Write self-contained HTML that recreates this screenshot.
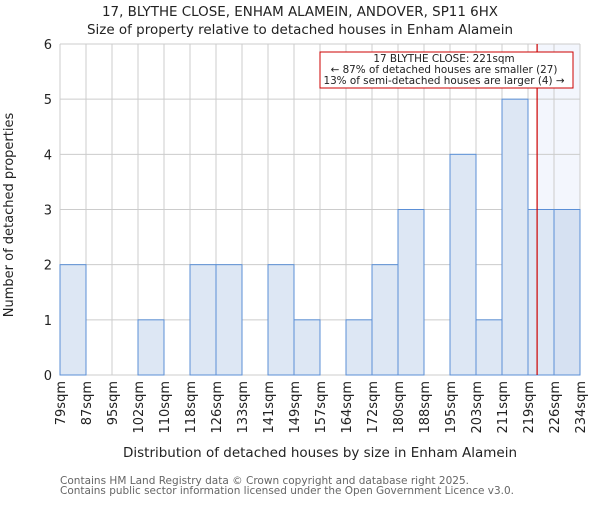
<!DOCTYPE html>
<html><head><meta charset="utf-8"><style>
body{margin:0;background:#fff;}
svg{font-family:"DejaVu Sans","Liberation Sans",sans-serif;}
</style></head><body>
<svg id="chart" width="600" height="500">
<text x="300" y="16" text-anchor="middle" font-size="13" textLength="396" lengthAdjust="spacingAndGlyphs" fill="#222">17, BLYTHE CLOSE, ENHAM ALAMEIN, ANDOVER, SP11 6HX</text>
<text x="300" y="34" text-anchor="middle" font-size="13" textLength="426" lengthAdjust="spacingAndGlyphs" fill="#222">Size of property relative to detached houses in Enham Alamein</text>
<g id="plot"></g>
<text x="320" y="457" text-anchor="middle" font-size="13" textLength="394" lengthAdjust="spacingAndGlyphs" fill="#222">Distribution of detached houses by size in Enham Alamein</text>
<text transform="translate(13,215) rotate(-90)" text-anchor="middle" font-size="13" fill="#222">Number of detached properties</text>
<text x="60" y="484" font-size="11" textLength="409" lengthAdjust="spacingAndGlyphs" fill="#666">Contains HM Land Registry data © Crown copyright and database right 2025.</text>
<text x="60" y="494" font-size="11" textLength="454" lengthAdjust="spacingAndGlyphs" fill="#666">Contains public sector information licensed under the Open Government Licence v3.0.</text>
</svg>
<script>
const categories=["79sqm","87sqm","95sqm","102sqm","110sqm","118sqm","126sqm","133sqm","141sqm","149sqm","157sqm","164sqm","172sqm","180sqm","188sqm","195sqm","203sqm","211sqm","219sqm","226sqm","234sqm"];
const counts=[2,0,0,1,0,2,2,0,2,1,0,1,2,3,0,4,1,5,3,3];
const yTicks=[0,1,2,3,4,5,6];
const markerBin=18.35;
const annotation=["17 BLYTHE CLOSE: 221sqm","← 87% of detached houses are smaller (27)","13% of semi-detached houses are larger (4) →"];
const NS="http://www.w3.org/2000/svg";
const g=document.getElementById('plot');
const L=60,R=580,T=44,B=375,n=counts.length;
const xs=i=>L+(R-L)*i/n;
const ys=v=>B-(B-T)*v/6;
function mk(t,a){const e=document.createElementNS(NS,t);for(const k in a)e.setAttribute(k,a[k]);g.appendChild(e);return e;}
const mx=xs(markerBin);
let hl=mk('rect',{x:mx,y:T,width:R-mx,height:B-T,fill:'#f3f6fd'});


yTicks.forEach(v=>{let l=mk('line',{x1:L,x2:R,y1:ys(v),y2:ys(v),stroke:'#ccc'});


let t=mk('text',{x:L-8,y:ys(v)+5,'text-anchor':'end','font-size':13,fill:'#222'});t.textContent=v;

});
for(let i=0;i<=n;i++){let l=mk('line',{x1:xs(i),x2:xs(i),y1:T,y2:B,stroke:'#ccc'});

}
counts.forEach((c,i)=>{if(!c)return;const inHl=xs(i)>=mx-5;
let r=mk('rect',{x:xs(i),y:ys(c),width:xs(1)-xs(0),height:B-ys(c),fill:inHl?'#d6e1f2':'#dde7f4',stroke:'#5b8fd6','stroke-width':1});

});
categories.forEach((c,i)=>{let t=mk('text',{transform:`translate(${xs(i)+5},381) rotate(-90)`,'text-anchor':'end','font-size':13,fill:'#222'});t.textContent=c;

});
let ln=mk('line',{x1:mx,x2:mx,y1:T,y2:B,stroke:'#cc0000','stroke-width':1.2});


let box=mk('rect',{x:320,y:52,width:253,height:36,fill:'#fff',stroke:'#cc0000'});


annotation.forEach((s,i)=>{let t=mk('text',{x:444,y:62+i*11,'text-anchor':'middle','font-size':10.4,fill:'#222'});t.textContent=s;

});
</script>
</body></html>
